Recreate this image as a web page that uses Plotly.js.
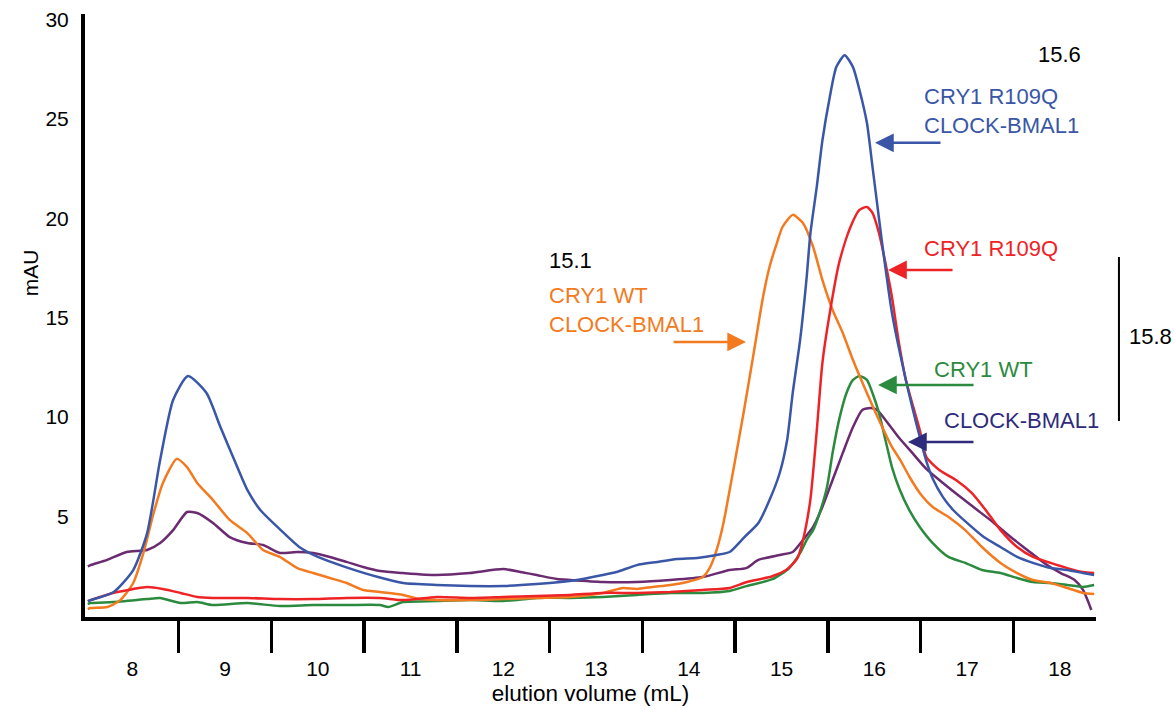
<!DOCTYPE html>
<html>
<head>
<meta charset="utf-8">
<script src="https://cdn.plot.ly/plotly-3.0.1.min.js"></script>
<style>html,body{margin:0;padding:0;background:#fff;}#chart{width:1174px;height:710px;}</style>
</head>
<body>
<div id="chart"></div>
<script>
// Elution volume (mL) and absorbance (mAU)
const blueX = [7.52,7.55,7.8,8.01,8.16,8.3,8.44,8.6,8.8,8.95,9.1,9.24,9.38,9.6,9.8,10.0,10.3,10.65,10.92,11.28,11.64,12.0,12.36,12.79,13.07,13.22,13.44,13.66,13.87,14.09,14.3,14.44,14.6,14.75,14.87,14.98,15.06,15.12,15.2,15.27,15.31,15.38,15.44,15.52,15.59,15.68,15.77,15.84,15.92,15.98,16.05,16.08,16.19,16.34,16.49,16.56,16.63,16.74,16.85,17.0,17.18,17.36,17.54,17.71,17.9,18.08,18.25,18.37];
const blueY = [0.75,0.80,1.21,2.31,4.17,7.84,10.86,12.07,11.21,9.5,7.84,6.34,5.33,4.32,3.47,2.97,2.46,1.96,1.66,1.56,1.51,1.51,1.61,1.81,2.06,2.21,2.56,2.72,2.87,2.92,3.07,3.22,3.97,4.68,5.83,7.19,8.85,11.21,13.88,17.0,19.2,21.6,23.9,26.1,27.6,28.2,27.6,26.45,24.8,22.6,20.0,18.9,15.24,11.87,9.0,7.8,6.9,5.98,5.33,4.68,3.97,3.47,2.97,2.67,2.41,2.31,2.16,2.06];

const redX = [7.52,7.55,7.79,8.0,8.16,8.33,8.52,8.7,8.87,9.24,9.59,9.95,10.31,10.67,10.92,11.28,11.64,12.0,12.36,12.72,13.07,13.44,13.8,14.15,14.44,14.62,14.9,15.06,15.17,15.23,15.31,15.38,15.44,15.52,15.62,15.73,15.84,15.92,15.98,16.05,16.12,16.19,16.26,16.34,16.49,16.56,16.7,16.88,17.05,17.2,17.36,17.54,17.71,17.9,18.08,18.25,18.37];
const redY = [0.75,0.80,1.16,1.35,1.46,1.36,1.16,0.96,0.91,0.91,0.85,0.85,0.91,0.91,0.80,0.96,0.91,0.96,1.01,1.06,1.16,1.16,1.21,1.31,1.41,1.7,2.0,2.35,2.9,3.8,5.83,9.35,12.72,15.24,17.75,19.41,20.42,20.57,20.27,19.26,17.75,16.04,13.88,11.87,9.35,8.0,7.34,6.84,6.19,5.33,4.32,3.47,2.97,2.67,2.41,2.21,2.16];

const orangeX = [7.52,7.55,7.73,7.87,8.01,8.12,8.23,8.33,8.48,8.59,8.7,8.87,9.05,9.24,9.41,9.59,9.78,9.95,10.13,10.31,10.49,10.67,10.92,11.1,11.28,11.64,12.0,12.36,12.72,13.07,13.29,13.44,13.61,13.8,13.98,14.15,14.23,14.3,14.37,14.48,14.59,14.7,14.8,14.87,14.95,15.01,15.12,15.23,15.34,15.44,15.55,15.66,15.77,15.92,16.05,16.19,16.28,16.38,16.49,16.63,16.8,16.98,17.16,17.36,17.54,17.71,17.9,18.08,18.25,18.37];
const orangeY = [0.35,0.40,0.45,0.80,1.66,3.17,5.18,6.69,7.9,7.49,6.69,5.83,4.83,4.17,3.32,2.97,2.41,2.16,1.91,1.66,1.31,1.21,1.06,0.85,0.80,0.80,0.85,0.91,0.96,1.16,1.41,1.36,1.46,1.56,1.71,1.96,2.46,3.32,4.6,7.34,10.21,13.23,16.04,17.55,18.76,19.56,20.17,19.76,18.56,16.9,15.39,14.23,12.87,11.21,9.86,8.5,7.84,6.99,6.19,5.48,4.98,4.32,3.47,2.67,2.16,1.81,1.66,1.41,1.16,1.11];

const greenX = [7.52,7.55,7.79,8.16,8.3,8.52,8.7,8.87,9.24,9.59,9.95,10.31,10.67,10.76,10.92,11.28,11.64,12.0,12.36,12.72,13.07,13.44,13.8,14.15,14.44,14.62,14.9,15.08,15.2,15.27,15.34,15.41,15.49,15.55,15.62,15.7,15.77,15.84,15.92,15.98,16.05,16.12,16.19,16.27,16.38,16.49,16.63,16.8,16.98,17.16,17.36,17.54,17.71,17.9,18.08,18.25,18.37];
const greenY = [0.6,0.65,0.70,0.85,0.9,0.65,0.70,0.55,0.65,0.50,0.55,0.55,0.55,0.45,0.70,0.75,0.80,0.75,0.91,0.91,0.96,1.06,1.16,1.16,1.26,1.5,1.85,2.4,3.17,3.82,4.32,5.18,6.49,8.2,9.86,11.21,11.87,12.07,11.87,11.21,10.21,8.85,7.49,6.4,5.3,4.48,3.67,2.97,2.67,2.31,2.16,1.91,1.71,1.66,1.56,1.46,1.56];

const purpleX = [7.52,7.55,7.73,7.94,8.16,8.3,8.44,8.59,8.7,8.87,9.05,9.24,9.41,9.59,9.78,9.95,10.13,10.31,10.49,10.67,10.92,11.28,11.64,12.0,12.2,12.36,12.58,12.72,13.07,13.44,13.8,14.15,14.44,14.62,14.75,14.98,15.12,15.23,15.34,15.44,15.55,15.66,15.77,15.87,15.96,16.03,16.12,16.26,16.41,16.56,16.74,16.93,17.11,17.29,17.47,17.65,17.83,18.01,18.16,18.25,18.34];
const purpleY = [2.5,2.56,2.82,3.22,3.32,3.67,4.32,5.23,5.18,4.68,3.97,3.67,3.57,3.17,3.22,3.17,2.97,2.72,2.46,2.26,2.16,2.06,2.16,2.36,2.2,2.06,1.86,1.81,1.71,1.71,1.81,1.96,2.31,2.41,2.82,3.07,3.22,3.82,4.48,5.48,6.84,8.2,9.5,10.36,10.46,10.36,9.86,9.0,8.2,7.4,6.69,5.98,5.33,4.68,3.97,3.32,2.67,2.16,1.81,1.31,0.30];

const xLabelVals = [8,9,10,11,12,13,14,15,16,17,18];
const xLabelText = ['8','9','10','11','12','13','14','15','16','17','18'];
const xTickMarks = [8.5,9.5,10.5,11.5,12.5,13.5,14.5,15.5,16.5,17.5];
const yLabelVals = [5,10,15,20,25,30];
const yLabelText = ['5','10','15','20','25','30'];

const C = {blue:'#3a56a7', red:'#ee2326', orange:'#f47a20', green:'#2b8a3e', purple:'#6b2b70', navy:'#2e2b7c'};
const FONT = '"Liberation Sans", Arial, Helvetica, sans-serif';

function line(x, y, color) {
  return {x: x, y: y, type: 'scatter', mode: 'lines', line: {color: color, width: 2.5, shape: 'spline', smoothing: 0.6}, hoverinfo: 'skip', showlegend: false};
}
const traces = [
  line(purpleX, purpleY, C.purple),
  line(greenX, greenY, C.green),
  line(orangeX, orangeY, C.orange),
  line(redX, redY, C.red),
  line(blueX, blueY, C.blue)
];

function label(x, y, text, color, anchor) {
  return {x: x, y: y, xref: 'x', yref: 'y', text: text, showarrow: false, xanchor: anchor || 'left', yanchor: 'middle', align: 'left', font: {family: FONT, size: 22, color: color}};
}
function arrow(x, y, ax, color) {
  return {x: x, y: y, xref: 'x', yref: 'y', ax: ax, ay: 0, text: '', showarrow: true, arrowhead: 2, arrowsize: 1.5, arrowwidth: 2.5, arrowcolor: color, standoff: 0};
}

const annotations = [
  label(18.0, 28.21, '15.6', '#000', 'center'),
  label(16.515, 25.37, 'CRY1 R109Q<br>CLOCK-BMAL1', C.blue),
  arrow(16.007, 23.79, 67, C.blue),
  label(12.471, 17.90, '15.1', '#000'),
  label(12.471, 15.41, 'CRY1 WT<br>CLOCK-BMAL1', C.orange),
  arrow(14.617, 13.78, -74, C.orange),
  label(16.515, 18.46, 'CRY1 R109Q', C.red),
  arrow(16.148, 17.40, 66, C.red),
  label(16.622, 12.42, 'CRY1 WT', C.green),
  arrow(16.04, 11.62, 97, C.green),
  label(16.73, 9.81, 'CLOCK-BMAL1', C.navy),
  arrow(16.363, 8.75, 67, C.navy),
  {x: 1.0307, y: 0.466, xref: 'paper', yref: 'paper', text: '15.8', showarrow: false, xanchor: 'left', yanchor: 'middle', font: {family: FONT, size: 22, color: '#000'}},
  // y-axis title (placed like in the reference, above the axis middle)
  {x: -0.0544, y: 0.57, xref: 'paper', yref: 'paper', text: 'mAU', textangle: -90, showarrow: false, xanchor: 'center', yanchor: 'middle', font: {family: FONT, size: 21, color: '#000'}}
];

const layout = {
  width: 1174, height: 710,
  margin: {l: 85, r: 78, t: 14, b: 93},
  paper_bgcolor: '#fff', plot_bgcolor: '#fff',
  font: {family: FONT, color: '#000'},
  showlegend: false,
  xaxis: {
    range: [7.49, 18.39], showgrid: false, zeroline: false,
    showline: true, linewidth: 4, linecolor: '#000',
    tickmode: 'array', tickvals: xLabelVals, ticktext: xLabelText, ticks: '',
    ticklabelstandoff: 30,
    tickfont: {family: FONT, size: 21, color: '#000'},
    minor: {tickmode: 'array', tickvals: xTickMarks, ticks: 'outside', ticklen: 32, tickwidth: 3.5, tickcolor: '#000', showgrid: false},
    title: {text: 'elution volume (mL)', font: {family: FONT, size: 22.5, color: '#000'}, standoff: 7}
  },
  yaxis: {
    range: [-0.05, 30.27], showgrid: false, zeroline: false,
    showline: true, linewidth: 4, linecolor: '#000',
    tickmode: 'array', tickvals: yLabelVals, ticktext: yLabelText, ticks: '',
    ticklabelstandoff: 8,
    tickfont: {family: FONT, size: 21, color: '#000'}
  },
  shapes: [
    {type: 'line', xref: 'paper', yref: 'paper', x0: 1.0227, x1: 1.0227, y0: 0.325, y1: 0.597, line: {color: '#000', width: 2}}
  ],
  annotations: annotations
};

Plotly.newPlot('chart', traces, layout, {staticPlot: true, displayModeBar: false});
</script>
</body>
</html>
